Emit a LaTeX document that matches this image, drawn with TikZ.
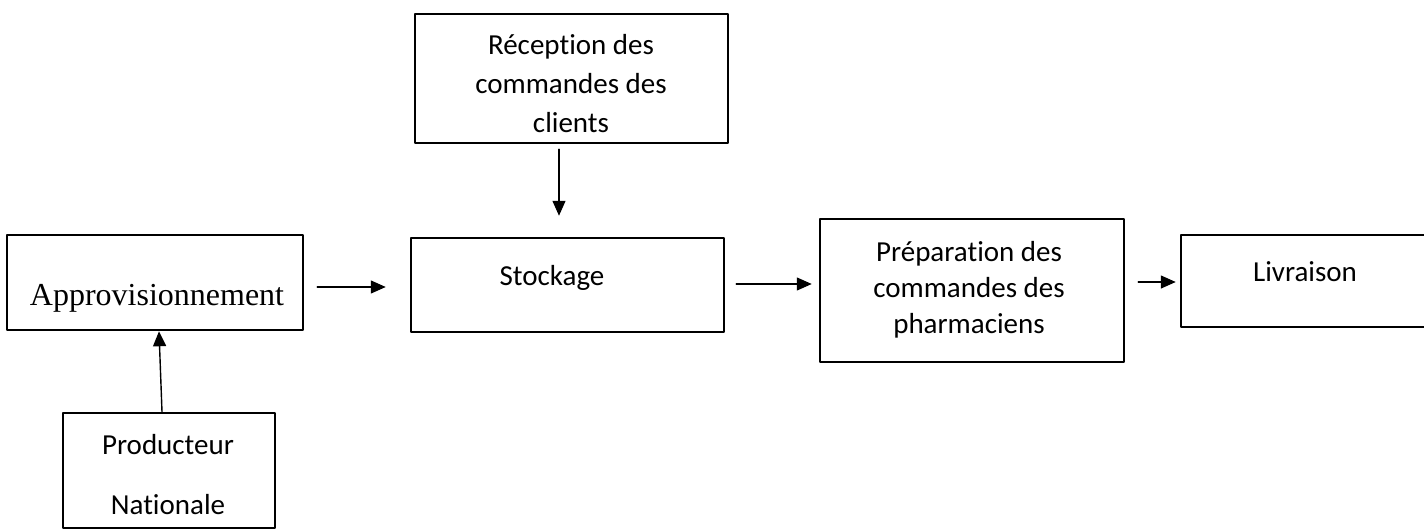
\documentclass[tikz,border=0pt]{standalone}
\usepackage{fontspec}
\setmainfont[Ligatures=NoCommon]{Carlito}
\newfontfamily\timesfont{Liberation Serif}
\usetikzlibrary{arrows.meta}

\begin{document}
\begin{tikzpicture}[x=0.5pt,y=-0.5pt,line cap=round,line join=round]
\tikzset{
    blockbox/.style={draw=black, line width=1.25pt, inner sep=0pt},
    flow/.style={line width=0.7pt, -{Triangle[length=7.5pt,width=6.5pt]}},
    blocktext/.style={align=center, inner sep=0pt, font=\fontsize{14.5}{19.5}\selectfont},
}
\clip (0,0) rectangle (1424,530);
\node[blockbox, minimum width=148pt, minimum height=47.5pt] (appro) at (155,282.5) {};
\node[blockbox, minimum width=156.5pt, minimum height=64.5pt] (recep) at (571.5,78.5) {};
\node[blockbox, minimum width=156.5pt, minimum height=47pt] (stock) at (567.5,285) {};
\node[blockbox, minimum width=152pt, minimum height=71.5pt] (prep) at (972,290.5) {};
\node[blockbox, minimum width=124.5pt, minimum height=46pt] (livr) at (1305.5,281) {};
\node[blockbox, minimum width=106pt, minimum height=57.5pt] (prod) at (169,470.5) {};
\node[blocktext, font=\timesfont\fontsize{16}{19}\selectfont] (approtext) at (157,298) {Approvisionnement};
\node[blocktext] (receptext) at (571,84) {Réception des\\commandes des\\clients};
\node[blocktext] (stocktext) at (552,278) {Stockage};
\node[blocktext, font=\fontsize{14.5}{18}\selectfont] (preptext) at (969,290) {Préparation des\\commandes des\\pharmaciens};
\node[blocktext] (livrtext) at (1305,272) {Livraison};
\node[blocktext, font=\fontsize{14.5}{30}\selectfont] (prodtext) at (168,475) {Producteur\\Nationale};
\draw[flow] ([shift={(13,4.5)}]appro.east) -- ([shift={(-24,2)}]stock.west);
\draw[flow] ([shift={(-12.5,5)}]recep.south) -- ([shift={(-8.5,-21)}]stock.north);
\draw[flow] ([shift={(11,-1)}]stock.east) -- ([shift={(-7,-6.5)}]prep.west);
\draw[flow] ([shift={(13,-8.5)}]prep.east) -- ([shift={(-4,1)}]livr.west);
\draw[flow] ([shift={(-7,0)}]prod.north) -- ([shift={(4,0)}]appro.south);
\end{tikzpicture}
\end{document}
